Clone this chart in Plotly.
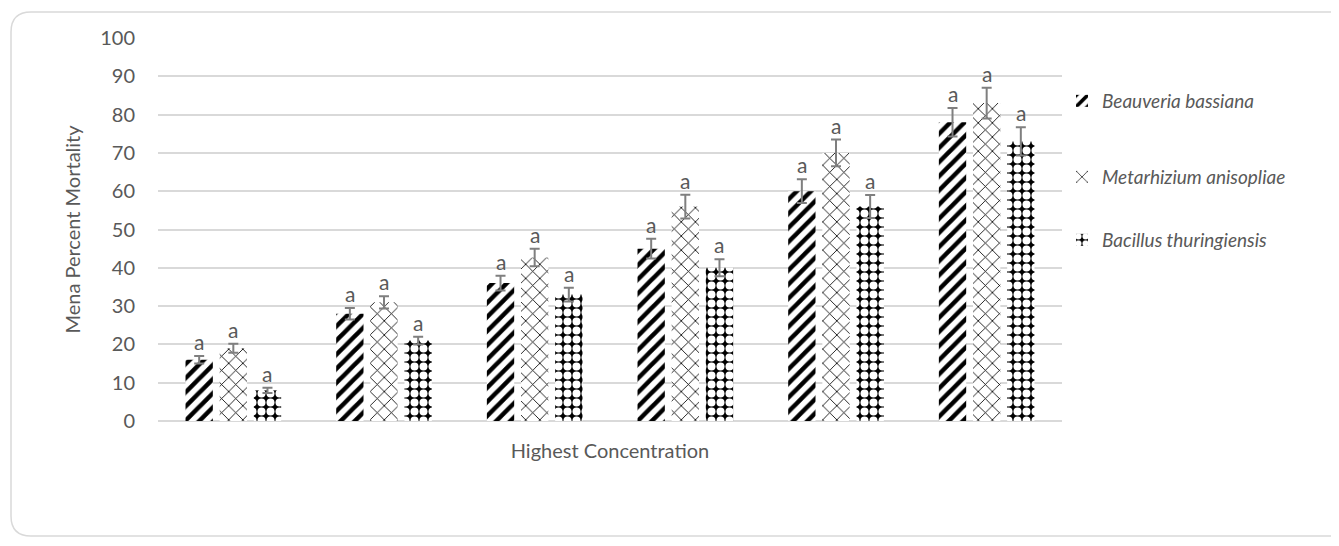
import plotly.graph_objects as go

categories = ["C1", "C2", "C3", "C4", "C5", "C6"]
series_names = ["Beauveria bassiana", "Metarhizium anisopliae", "Bacillus thuringiensis"]
beauveria = [16, 28, 36, 45, 60, 78]
beauveria_err = [1.0, 1.5, 1.9, 2.6, 3.1, 3.7]
metarhizium = [19, 31, 42.7, 56, 70, 83]
metarhizium_err = [1.2, 1.6, 2.3, 3.1, 3.5, 4.0]
bacillus = [8, 21, 33, 40, 56, 73]
bacillus_err = [0.7, 1.0, 1.8, 2.2, 3.0, 3.7]
letters = ["a", "a", "a"]
y_ticks = list(range(0, 101, 10))

FONT = "Lato"
TXT = "#595959"
OFF = 8  # page body margin
W, H = 1339 - OFF, 546 - OFF
L, R, T, B = 158 - OFF, 1062 - OFF, 38 - OFF, 421 - OFF

def px(x):
    return (x - OFF - L) / (R - L)

def py(y):
    return (B - (y - OFF)) / (B - T)

patterns = [
    dict(shape="/", fgcolor="black", bgcolor="white", size=10, solidity=0.45, fgopacity=1),
    dict(shape="x", fgcolor="black", bgcolor="white", size=10, solidity=0.16, fgopacity=1),
    dict(shape=".", fgcolor="white", bgcolor="black", size=9, solidity=0.62, fillmode="replace"),
]
vals = [beauveria, metarhizium, bacillus]
errs = [beauveria_err, metarhizium_err, bacillus_err]
legends = ["legend", "legend2", "legend3"]

fig = go.Figure()
for i in range(3):
    fig.add_trace(go.Bar(
        x=categories, y=vals[i], name="<i>" + series_names[i] + "</i>",
        marker=dict(color="white", pattern=patterns[i], line=dict(width=0)),
        error_y=dict(type="data", array=errs[i], visible=True, color="#7f7f7f", thickness=2, width=5),
        legend=legends[i], showlegend=True,
    ))

shift = [-34, 0, 34]
annotations = []
for i in range(3):
    for c, v, e in zip(categories, vals[i], errs[i]):
        annotations.append(dict(
            x=c, y=v + e, xref="x", yref="y", text=letters[i], showarrow=False,
            xshift=shift[i], yanchor="bottom", yshift=0,
            font=dict(family=FONT, size=21, color=TXT),
        ))

border = (f"M {px(1350)},{py(12)} L {px(31)},{py(12)} Q {px(11)},{py(12)} {px(11)},{py(32)} "
          f"L {px(11)},{py(516)} Q {px(11)},{py(536)} {px(31)},{py(536)} L {px(1350)},{py(536)}")

leg_common = dict(xanchor="left", yanchor="middle", bgcolor="rgba(0,0,0,0)",
                  font=dict(family=FONT, size=19, color=TXT))

fig.update_layout(
    width=W, height=H,
    margin=dict(l=L, r=W - R, t=T, b=H - B),
    plot_bgcolor="white", paper_bgcolor="white",
    barmode="group", bargap=0.32, bargroupgap=0.2,
    showlegend=True,
    font=dict(family=FONT, color=TXT),
    xaxis=dict(showticklabels=False, showgrid=False, showline=False, zeroline=False,
               ticks="", title=dict(text="Highest Concentration", font=dict(family=FONT, size=20, color=TXT), standoff=22)),
    yaxis=dict(range=[0, 100], tickvals=y_ticks, showgrid=True, gridcolor="#d9d9d9", gridwidth=1.5,
               zeroline=True, zerolinecolor="#d9d9d9", zerolinewidth=1.5, showline=False,
               tickfont=dict(family=FONT, size=20, color=TXT), ticklabelstandoff=22,
               title=dict(text="Mena Percent Mortality", font=dict(family=FONT, size=20, color=TXT), standoff=14)),
    legend=dict(x=px(1062), y=py(101), **leg_common),
    legend2=dict(x=px(1062), y=py(177), **leg_common),
    legend3=dict(x=px(1062), y=py(240), **leg_common),
    annotations=annotations,
    shapes=[dict(type="path", path=border, xref="paper", yref="paper",
                 line=dict(color="#d9d9d9", width=1.5), layer="below")],
)

fig.write_html("out.html")
